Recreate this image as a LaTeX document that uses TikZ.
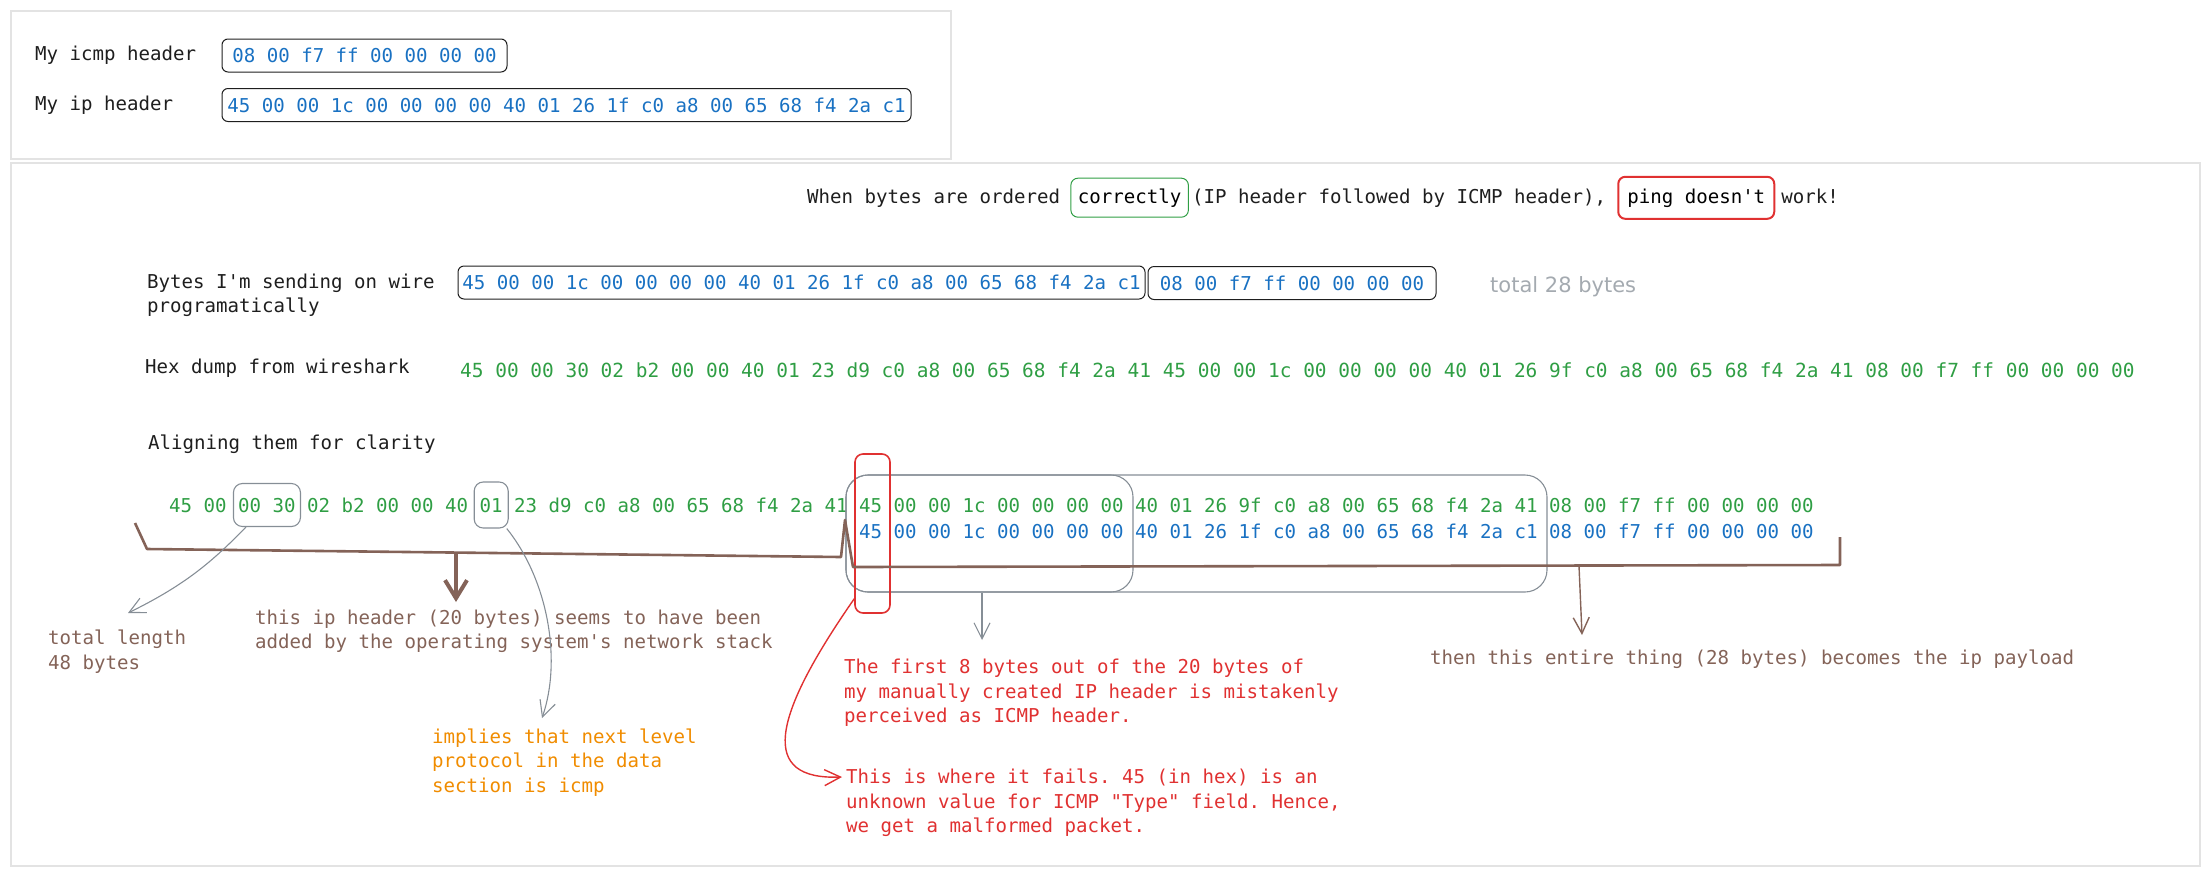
\documentclass[tikz,border=0pt]{standalone}
\usepackage{fontspec}
\setmonofont{DejaVu Sans Mono}
\newfontfamily\handfont{DejaVu Sans}
\usepackage{tikz}
\usetikzlibrary{arrows.meta, positioning, calc}
\definecolor{encre}{HTML}{1E1E1E}
\definecolor{vert}{HTML}{2F9E44}
\definecolor{bleu}{HTML}{1971C2}
\definecolor{rouge}{HTML}{E03131}
\definecolor{orange}{HTML}{F08C00}
\definecolor{brun}{HTML}{846358}
\definecolor{gris}{HTML}{868E96}
\definecolor{cadre}{HTML}{E3E3E3}

\begin{document}
\begin{tikzpicture}[x=1pt, y=-1pt,
    mono/.style={font=\fontsize{19.1}{24.5}\selectfont\ttfamily, inner sep=0pt},
    lbl/.style={mono, text=encre, anchor=west, align=left},
    note/.style={mono, anchor=west, align=left},
    hexrow/.style={mono, anchor=west, text height=14pt, text depth=0pt},
    hexbox/.style={mono, draw=encre, line width=1pt, rounded corners=6pt, text=bleu, minimum height=33pt},
    markbox/.style={draw=gris, line width=1.1pt, rounded corners=9pt, inner sep=0pt},
    barb/.style={-{Straight Barb[length=16pt, width=16pt]}}]
    \useasboundingbox (0,0) rectangle (2207,876);
    \draw[cadre, line width=1.2pt] (11,11) rectangle (951,159);
    \draw[cadre, line width=1.2pt] (11,163) rectangle (2200,866);

    \node[lbl] (icmplbl) at (35,55) {My icmp header};
    \node[hexbox, minimum width=285pt] (myicmp) at (364.5,55.5) {08 00 f7 ff 00 00 00 00};
    \node[lbl] (iplbl) at (35,105) {My ip header};
    \node[hexbox, minimum width=689pt] (myip) at (566.5,105) {45 00 00 1c 00 00 00 00 40 01 26 1f c0 a8 00 65 68 f4 2a c1};

    \node[mono, text=encre, anchor=base west] (titleA) at (807,203) {When bytes are ordered};
    \node[mono, draw=vert, line width=1pt, rounded corners=7pt, inner xsep=7pt, minimum height=39pt, base right=10pt of titleA] (titleok) {correctly};
    \node[mono, text=encre, base right=3pt of titleok] (titleB) {(IP header followed by ICMP header),};
    \node[mono, draw=rouge, line width=2pt, rounded corners=7pt, inner xsep=9pt, minimum height=42pt, base right=11pt of titleB] (titlefail) {ping doesn't};
    \node[mono, text=encre, base right=6pt of titlefail] (titleC) {work!};

    \node[lbl] (sendlbl) at (147,295.5) {Bytes I'm sending on wire\\programatically};
    \node[hexbox, minimum width=687pt] (sendip) at (801.5,282.5) {45 00 00 1c 00 00 00 00 40 01 26 1f c0 a8 00 65 68 f4 2a c1};
    \node[hexbox, minimum width=288pt] (sendicmp) at (1292,283) {08 00 f7 ff 00 00 00 00};
    \node[font=\handfont\fontsize{21}{24}\selectfont, text=gris!75, anchor=west, inner sep=0pt] (total) at (1490,287) {total 28 bytes};

    \node[lbl] (dumplbl) at (145,368) {Hex dump from wireshark};
    \node[hexrow, text=vert, font=\fontsize{19.45}{24.5}\selectfont\ttfamily] (dump) at (460,370) {45 00 00 30 02 b2 00 00 40 01 23 d9 c0 a8 00 65 68 f4 2a 41 45 00 00 1c 00 00 00 00 40 01 26 9f c0 a8 00 65 68 f4 2a 41 08 00 f7 ff 00 00 00 00};

    \node[lbl] (alignlbl) at (148,444) {Aligning them for clarity};
    \foreach \nm/\off/\txt in {gA/0/45 00, glen/6/00 30, gB/12/02 b2 00 00 40, gproto/27/01,
        gC/30/23 d9 c0 a8 00 65 68 f4 2a 41, g45/60/45, gmid/63/00 00 1c 00 00 00 00,
        gtail/84/40 01 26 9f c0 a8 00 65 68 f4 2a 41, gicmp/120/08 00 f7 ff 00 00 00 00}
      \node[hexrow, text=vert] (\nm) at ({169+\off*11.5}, 505) {\txt};
    \foreach \nm/\off/\txt in {b45/60/45, bmid/63/00 00 1c 00 00 00 00,
        btail/84/40 01 26 1f c0 a8 00 65 68 f4 2a c1, bicmp/120/08 00 f7 ff 00 00 00 00}
      \node[hexrow, text=bleu] (\nm) at ({169+\off*11.5}, 531) {\txt};

    \node[markbox, minimum width=67pt, minimum height=43pt] (lenbox) at (glen) {};
    \node[markbox, minimum width=34pt, minimum height=46pt] (protobox) at (gproto) {};
    \node[markbox, rounded corners=22pt, minimum width=701pt, minimum height=117pt] (payloadbox) at (1196.5,533.5) {};
    \node[markbox, rounded corners=22pt, minimum width=287pt, minimum height=117pt] (hdrbox) at (989.5,533.5) {};
    \node[draw=rouge, line width=1.6pt, rounded corners=8pt, inner sep=0pt, minimum width=35pt, minimum height=159pt] (fail45) at (872.5,533.5) {};

    \draw[brun, line width=2.6pt, line join=round] (135,523) -- (147,549) -- (841,557) -- (845,520) -- (853,567) -- (1840,565) -- (1840,537);
    \coordinate (brk1) at (456,553);
    \coordinate (brk2) at (1579,566);

    \node[note, text=brun] (lenlbl) at (48,651.5) {total length\\48 bytes};
    \node[note, text=brun] (oslbl) at (255,631.5) {this ip header (20 bytes) seems to have been\\added by the operating system's network stack};
    \node[note, text=orange] (protolbl) at (432,762.5) {implies that next level\\protocol in the data\\section is icmp};
    \node[note, text=rouge] (firstlbl) at (844,693) {The first 8 bytes out of the 20 bytes of\\my manually created IP header is mistakenly\\perceived as ICMP header.};
    \node[note, text=rouge] (faillbl) at (846,803) {This is where it fails. 45 (in hex) is an\\unknown value for ICMP "Type" field. Hence,\\we get a malformed packet.};
    \node[note, text=brun] (paylbl) at (1430,659) {then this entire thing (28 bytes) becomes the ip payload};

    \coordinate (lentip) at (128,613);
    \coordinate (ostip) at (456,602);
    \coordinate (prototip) at (542,718);
    \coordinate (firsttip) at (982,640);
    \coordinate (paytip) at (1582,635);
    \coordinate (failtip) at (842,777);
    \draw[gris, line width=1.1pt, barb] ($(lenbox.south)+(-21,0)$) .. controls (212,562) and (185,585) .. (lentip);
    \draw[brun, line width=4pt, -{Straight Barb[length=18pt, width=22pt]}] (brk1) -- (ostip);
    \draw[gris, line width=1.1pt, barb] ($(protobox.south east)+(-2,0)$) .. controls (548,580) and (562,660) .. (prototip);
    \draw[gris, line width=1.1pt, barb] (firsttip |- hdrbox.south) -- (firsttip);
    \draw[brun, line width=1.4pt, barb] (brk2) -- (paytip);
    \draw[rouge, line width=1.4pt, barb] ($(fail45.south west)+(0,-15)$) .. controls (770,720) and (760,780) .. (failtip);
  \end{tikzpicture}
\end{document}
